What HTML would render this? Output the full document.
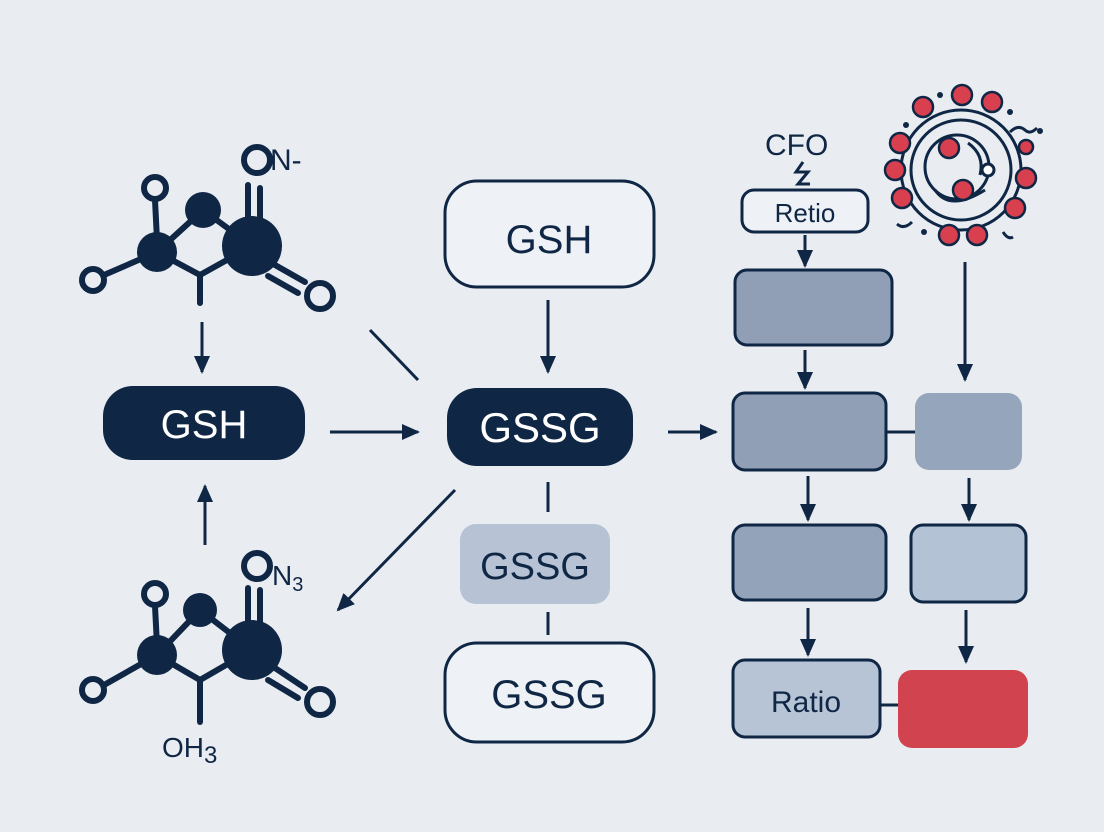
<!DOCTYPE html><html><head><style>body{margin:0;background:#e9edf2}svg{display:block}text{font-family:"Liberation Sans",sans-serif;fill:#0f2745}</style></head><body>
<svg width="1104" height="832" viewBox="0 0 1104 832" xmlns="http://www.w3.org/2000/svg">
<defs>
<marker id="b" markerWidth="18" markerHeight="16" refX="16" refY="8" orient="auto" markerUnits="userSpaceOnUse"><path d="M0,0L18,8L0,16z" fill="#0f2745"/></marker></defs>
<rect width="1104" height="832" fill="#e9edf2"/>
<g stroke="#0f2745" stroke-width="6" fill="none" stroke-linecap="round">
<line x1="155" y1="200" x2="157" y2="240"/><line x1="104" y1="275" x2="157" y2="252"/>
<line x1="157" y1="252" x2="203" y2="210"/><line x1="203" y1="210" x2="252" y2="246"/>
<polyline points="157,252 200,275 252,246"/><line x1="200" y1="275" x2="200" y2="303"/>
<line x1="248" y1="185" x2="248" y2="220"/><line x1="260" y1="188" x2="260" y2="222"/>
<line x1="275" y1="265" x2="305" y2="282"/><line x1="268" y1="276" x2="298" y2="293"/>
<circle cx="155" cy="188" r="11"/><circle cx="93" cy="280" r="11"/><circle cx="320" cy="296" r="13"/><circle cx="257" cy="160" r="13"/>
<line x1="155" y1="606" x2="157" y2="645"/><line x1="104" y1="685" x2="157" y2="655"/>
<line x1="157" y1="655" x2="200" y2="610"/><line x1="200" y1="610" x2="252" y2="650"/>
<polyline points="157,655 200,680 252,650"/><line x1="200" y1="680" x2="200" y2="722"/>
<line x1="248" y1="588" x2="248" y2="624"/><line x1="260" y1="590" x2="260" y2="626"/>
<line x1="275" y1="668" x2="305" y2="688"/><line x1="268" y1="680" x2="298" y2="698"/>
<circle cx="155" cy="594" r="11"/><circle cx="93" cy="690" r="11"/><circle cx="320" cy="702" r="13"/><circle cx="257" cy="566" r="13"/>
</g>
<g fill="#0f2745"><circle cx="157" cy="252" r="20"/><circle cx="203" cy="210" r="18"/><circle cx="252" cy="246" r="30"/>
<circle cx="157" cy="655" r="20"/><circle cx="200" cy="610" r="17"/><circle cx="252" cy="650" r="30"/></g>
<text x="270" y="170" font-size="30">N-</text>
<text x="272" y="585" font-size="28">N<tspan font-size="20" dy="6">3</tspan></text>
<text x="162" y="757" font-size="28">OH<tspan font-size="24" dy="6">3</tspan></text>
<rect x="103" y="386" width="202" height="74" rx="30" fill="#0f2745"/><text x="204" y="438" font-size="40" text-anchor="middle" style="fill:#fff">GSH</text>
<rect x="447" y="388" width="186" height="78" rx="30" fill="#0f2745"/><text x="540" y="442" font-size="42" text-anchor="middle" style="fill:#fff">GSSG</text>
<rect x="445" y="181" width="209" height="106" rx="32" fill="#eef1f5" stroke="#0f2745" stroke-width="3"/><text x="549" y="253" font-size="40" text-anchor="middle">GSH</text>
<rect x="460" y="524" width="150" height="80" rx="16" fill="#b7c3d4"/><text x="535" y="579" font-size="38" text-anchor="middle">GSSG</text>
<rect x="445" y="643" width="209" height="99" rx="32" fill="#eef1f5" stroke="#0f2745" stroke-width="3"/><text x="549" y="708" font-size="40" text-anchor="middle">GSSG</text>
<text x="765" y="155" font-size="30">CFO</text>
<path d="M803,162 L796,172 L808,172 L798,184 L810,184" stroke="#0f2745" stroke-width="3" fill="none"/>
<rect x="742" y="190" width="126" height="42" rx="12" fill="#eef1f5" stroke="#0f2745" stroke-width="3"/><text x="805" y="222" font-size="26" text-anchor="middle">Retio</text>
<g stroke="#0f2745" stroke-width="3">
<rect x="735" y="270" width="157" height="75" rx="12" fill="#909fb6"/>
<rect x="733" y="393" width="153" height="77" rx="12" fill="#909fb6"/>
<rect x="733" y="525" width="153" height="75" rx="12" fill="#93a4ba"/>
<rect x="911" y="525" width="115" height="77" rx="12" fill="#b3c2d4"/>
<rect x="733" y="660" width="147" height="77" rx="12" fill="#b6c4d6"/>
</g>
<rect x="915" y="393" width="107" height="77" rx="14" fill="#95a6bc"/>
<rect x="898" y="670" width="130" height="78" rx="14" fill="#d1434f"/>
<text x="806" y="712" font-size="30" text-anchor="middle">Ratio</text>
<g stroke="#0f2745" stroke-width="3" fill="none">
<circle cx="961" cy="170" r="60"/><circle cx="961" cy="170" r="50"/><circle cx="957" cy="167" r="32"/>
<path d="M968,143 Q985,155 980,175"/><path d="M935,190 Q950,212 985,190"/>
<path d="M1010,132 q8,-8 15,-2 q5,5 12,-2"/><path d="M912,222 q-8,8 -15,2"/><path d="M1003,232 q5,8 10,5"/>
</g>
<circle cx="988" cy="170" r="6" fill="#fff" stroke="#0f2745" stroke-width="3"/>
<g fill="#d9404f" stroke="#0f2745" stroke-width="2.5">
<circle cx="962" cy="95" r="10"/><circle cx="992" cy="102" r="10"/><circle cx="923" cy="107" r="10"/>
<circle cx="900" cy="143" r="10"/><circle cx="895" cy="170" r="10"/><circle cx="902" cy="198" r="10"/>
<circle cx="1026" cy="147" r="7"/><circle cx="1026" cy="178" r="10"/><circle cx="1015" cy="208" r="10"/>
<circle cx="949" cy="235" r="10"/><circle cx="977" cy="235" r="10"/>
<circle cx="949" cy="148" r="10"/><circle cx="963" cy="190" r="10"/>
</g>
<g fill="#0f2745"><circle cx="940" cy="95" r="3"/><circle cx="906" cy="125" r="3"/><circle cx="1010" cy="112" r="3"/><circle cx="1040" cy="131" r="3"/><circle cx="924" cy="232" r="3"/></g>
<g stroke="#0f2745" stroke-width="3" fill="none">
<line x1="202" y1="322" x2="202" y2="372" marker-end="url(#b)"/>
<line x1="205" y1="545" x2="205" y2="486" marker-end="url(#b)"/>
<line x1="330" y1="432" x2="418" y2="432" marker-end="url(#b)"/>
<line x1="370" y1="330" x2="418" y2="380"/>
<line x1="455" y1="490" x2="338" y2="610" marker-end="url(#b)"/>
<line x1="548" y1="300" x2="548" y2="372" marker-end="url(#b)"/>
<line x1="548" y1="482" x2="548" y2="512"/><line x1="548" y1="612" x2="548" y2="635"/>
<line x1="668" y1="432" x2="716" y2="432" marker-end="url(#b)"/>
<line x1="805" y1="235" x2="805" y2="266" marker-end="url(#b)"/>
<line x1="805" y1="350" x2="805" y2="388" marker-end="url(#b)"/>
<line x1="965" y1="262" x2="965" y2="380" marker-end="url(#b)"/>
<line x1="886" y1="432" x2="915" y2="432"/>
<line x1="808" y1="476" x2="808" y2="520" marker-end="url(#b)"/>
<line x1="969" y1="478" x2="969" y2="520" marker-end="url(#b)"/>
<line x1="808" y1="608" x2="808" y2="655" marker-end="url(#b)"/>
<line x1="966" y1="610" x2="966" y2="662" marker-end="url(#b)"/>
<line x1="880" y1="705" x2="898" y2="705"/>
</g>
</svg></body></html>
